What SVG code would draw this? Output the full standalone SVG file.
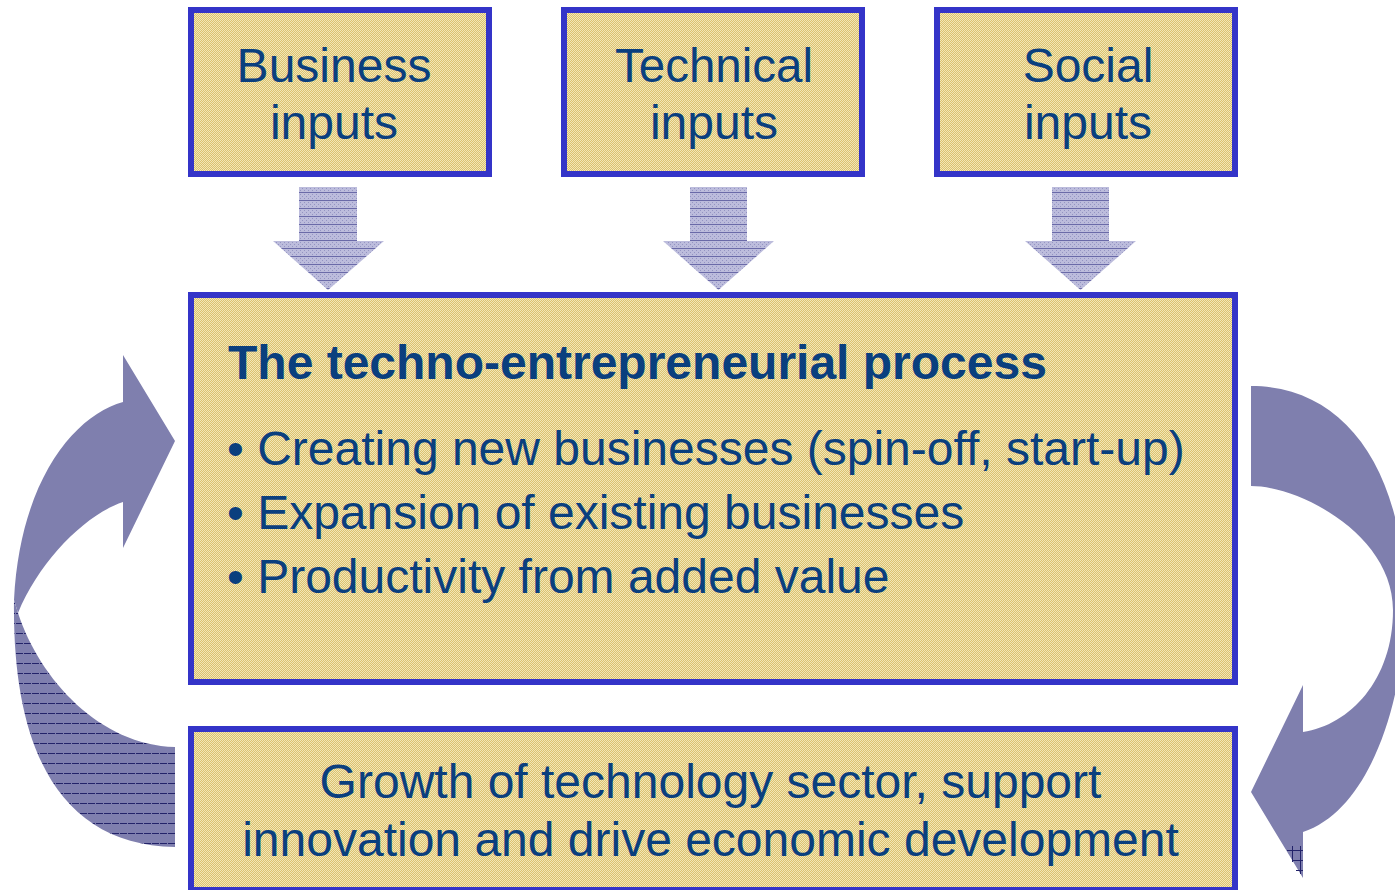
<svg xmlns="http://www.w3.org/2000/svg" width="1395" height="890" viewBox="0 0 1395 890">
<defs>
  <pattern id="tan" width="2" height="2" patternUnits="userSpaceOnUse">
    <rect width="2" height="2" fill="#dbc170"/>
    <rect x="0" y="0" width="1" height="1" fill="#f3e7b6"/>
    <rect x="1" y="1" width="1" height="1" fill="#f3e7b6"/>
  </pattern>
  <pattern id="lav" width="4" height="8" patternUnits="userSpaceOnUse">
    <rect width="4" height="8" fill="#bcbcdc"/>
    <rect x="0" y="2" width="1" height="1" fill="#9494c2"/>
    <rect x="2" y="4" width="1" height="1" fill="#9494c2"/>
    <rect x="0" y="6" width="1" height="1" fill="#9494c2"/>
    <rect x="0" y="0" width="4" height="1" fill="#6a6aa8"/>
  </pattern>
  <pattern id="stripes" width="8" height="10" patternUnits="userSpaceOnUse" y="3">
    <rect width="8" height="10" fill="#7f7fae"/>
    <rect x="0" y="0" width="7" height="1" fill="#23236a"/>
  </pattern>
</defs>
<style>
  .box { fill: url(#tan); stroke: #3434c8; stroke-width: 6; }
  .t { font-family: "Liberation Sans", Arial, sans-serif; font-size: 48px; fill: #0a3f7e; }
  .c { text-anchor: middle; }
  .b { font-weight: bold; }
  .down { fill: url(#lav); }
  .curve { fill: #7f7fae; }
</style>

<g id="connectors">
  <path class="down" d="M299,187 H357 V241 H384 L328,290 L273,241 H299 Z"/>
  <path class="down" d="M690,187 H747 V241 H774 L718.5,290 L663,241 H690 Z"/>
  <path class="down" d="M1052,187 H1109 V241 H1136 L1080.5,290 L1025,241 H1052 Z"/>
  <path class="curve" d="M175,441 L123,355 L123,402 C75,415 20,480 14,600 L18,613 C40,560 85,515 123,502 L123,548 Z"/>
  <path fill="url(#stripes)" d="M14,600 C12,750 60,845 175,847 L175,747 C100,745 40,680 18,613 Z"/>
  <path class="curve" d="M1251,386 C1345,386 1405,470 1405,605 C1405,700 1370,810 1303,832 L1303,878 L1251,792 L1303,685 L1303,732 C1350,725 1393,680 1393,610 C1393,535 1300,486 1251,486 Z"/>
  <g stroke="#23236a" stroke-width="1">
    <line x1="1287" y1="850.5" x2="1303" y2="850.5"/>
    <line x1="1292" y1="860.5" x2="1303" y2="860.5"/>
    <line x1="1296" y1="870.5" x2="1303" y2="870.5"/>
    <line x1="1292.5" y1="846" x2="1292.5" y2="862"/>
    <line x1="1300.5" y1="846" x2="1300.5" y2="874"/>
  </g>
</g>

<g id="business">
  <rect class="box" x="191" y="10" width="298" height="164"/>
  <text class="t c" x="334" y="82">Business</text>
  <text class="t c" x="334" y="139">inputs</text>
</g>
<g id="technical">
  <rect class="box" x="564" y="10" width="298" height="164"/>
  <text class="t c" x="714" y="82" textLength="198" lengthAdjust="spacingAndGlyphs">Technical</text>
  <text class="t c" x="714" y="139">inputs</text>
</g>
<g id="social">
  <rect class="box" x="937" y="10" width="298" height="164"/>
  <text class="t c" x="1088" y="82">Social</text>
  <text class="t c" x="1088" y="139">inputs</text>
</g>
<g id="process">
  <rect class="box" x="191" y="295" width="1044" height="387"/>
  <text class="t b" x="228" y="379">The techno-entrepreneurial process</text>
  <text class="t" x="227" y="465">• Creating new businesses (spin-off, start-up)</text>
  <text class="t" x="227" y="529">• Expansion of existing businesses</text>
  <text class="t" x="227" y="593">• Productivity from added value</text>
</g>
<g id="growth">
  <rect class="box" x="191" y="729" width="1044" height="161"/>
  <text class="t c" x="710.5" y="798">Growth of technology sector, support</text>
  <text class="t c" x="710.5" y="856">innovation and drive economic development</text>
</g>
</svg>
